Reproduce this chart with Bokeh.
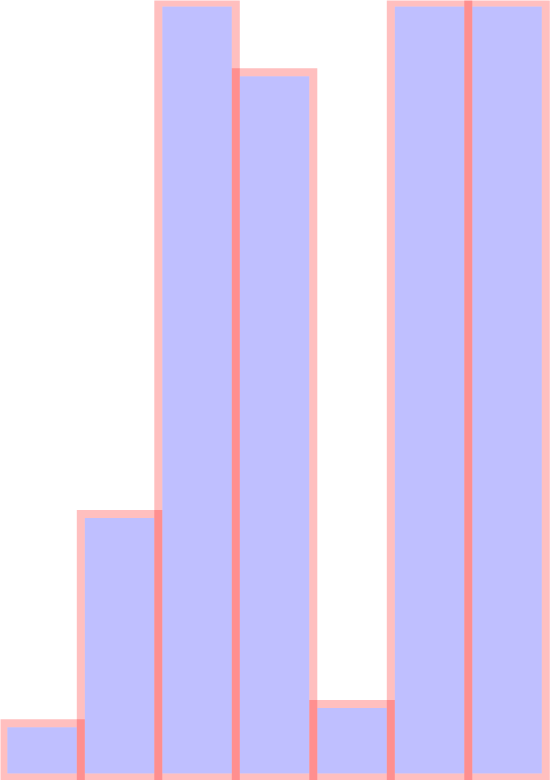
import numpy as np
from bokeh.plotting import figure
from bokeh.models import Range1d, ColumnDataSource
from bokeh.embed import file_html
from bokeh.resources import INLINE

# Data
bin_edges = [0, 1, 2, 3, 4, 5, 6, 7]
counts = [7, 34, 100, 91, 9.5, 100, 100]

W, H = 550, 780
LW = 8  # outline width in px

# ranges chosen so the outermost outlines sit a few pixels inside the frame
x_px = 77.5                    # px per bin
y_px = 7.75                    # px per count unit
x_start = -2.8 / x_px
x_end = x_start + W / x_px
y_start = -3.0 / y_px
y_end = y_start + H / y_px

p = figure(width=W, height=H, x_range=Range1d(x_start, x_end), y_range=Range1d(y_start, y_end),
           output_backend="svg", toolbar_location=None, min_border=0,
           x_axis_location=None, y_axis_location=None)
p.grid.visible = False
p.outline_line_color = None
p.background_fill_color = "white"
p.border_fill_color = "white"

left = np.array(bin_edges[:-1], dtype=float)
right = np.array(bin_edges[1:], dtype=float)
top = np.array(counts, dtype=float)
bottom = np.zeros_like(top)

dx = (LW / 2) / x_px
dy = (LW / 2) / y_px

fill_src = ColumnDataSource(dict(left=left + dx, right=right - dx, top=top - dy, bottom=bottom + dy))
line_src = ColumnDataSource(dict(left=left, right=right, top=top, bottom=bottom))

p.quad(left="left", right="right", top="top", bottom="bottom", source=fill_src,
       fill_color="blue", fill_alpha=0.25, line_color=None)
p.quad(left="left", right="right", top="top", bottom="bottom", source=line_src,
       fill_color=None, line_color="red", line_alpha=0.25, line_width=LW,
       line_join="miter", line_cap="square")

open("out.html", "w").write(file_html(p, INLINE))
